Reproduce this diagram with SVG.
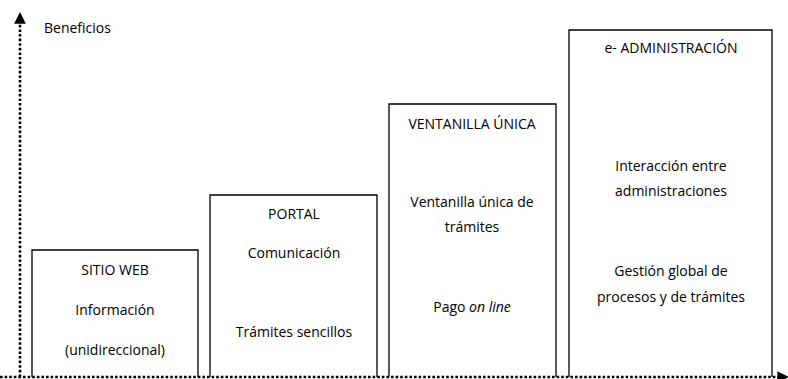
<svg xmlns="http://www.w3.org/2000/svg" width="788" height="379" viewBox="0 0 788 379">
<style>
text{font-family:"Open Sans","Noto Sans",sans-serif;font-size:14px;fill:#000;text-anchor:middle}
.box{fill:#fff;stroke:#000;stroke-width:1.3}
.axis{fill:none;stroke:#000;stroke-width:2.6;stroke-dasharray:2.6 2}
</style>
<defs>
<marker id="ah" viewBox="0 0 10 10" refX="4" refY="5" markerWidth="4.5" markerHeight="4.5" orient="auto" markerUnits="strokeWidth">
<path d="M0,0 L10,5 L0,10 z" fill="#000"/>
</marker>
</defs>
<rect width="788" height="379" fill="#fff"/>
<g id="sitio">
<path class="box" d="M32,377 V250 H198 V377"/>
<text x="115" y="275">SITIO WEB</text>
<text x="115" y="315">Información</text>
<text x="115" y="355">(unidireccional)</text>
</g>
<g id="portal">
<path class="box" d="M210,377 V195 H377 V377"/>
<text x="294" y="219">PORTAL</text>
<text x="294" y="258">Comunicación</text>
<text x="294" y="337">Trámites sencillos</text>
</g>
<g id="ventanilla">
<path class="box" d="M389,377 V104 H556 V377"/>
<text x="472" y="129">VENTANILLA ÚNICA</text>
<text x="472" y="207">Ventanilla única de</text>
<text x="472" y="232">trámites</text>
<text x="472" y="312">Pago <tspan font-style="italic">on line</tspan></text>
</g>
<g id="eadmin">
<path class="box" d="M569,377 V30 H772 V377"/>
<text x="671" y="53">e- ADMINISTRACIÓN</text>
<text x="671" y="171">Interacción entre</text>
<text x="671" y="196">administraciones</text>
<text x="671" y="276">Gestión global de</text>
<text x="671" y="302">procesos y de trámites</text>
</g>
<g id="axes">
<line class="axis" x1="20" y1="377" x2="20" y2="19" marker-end="url(#ah)"/>
<line class="axis" x1="0" y1="377" x2="782" y2="377" marker-end="url(#ah)"/>
<text x="44" y="33" style="text-anchor:start">Beneficios</text>
</g>
</svg>
